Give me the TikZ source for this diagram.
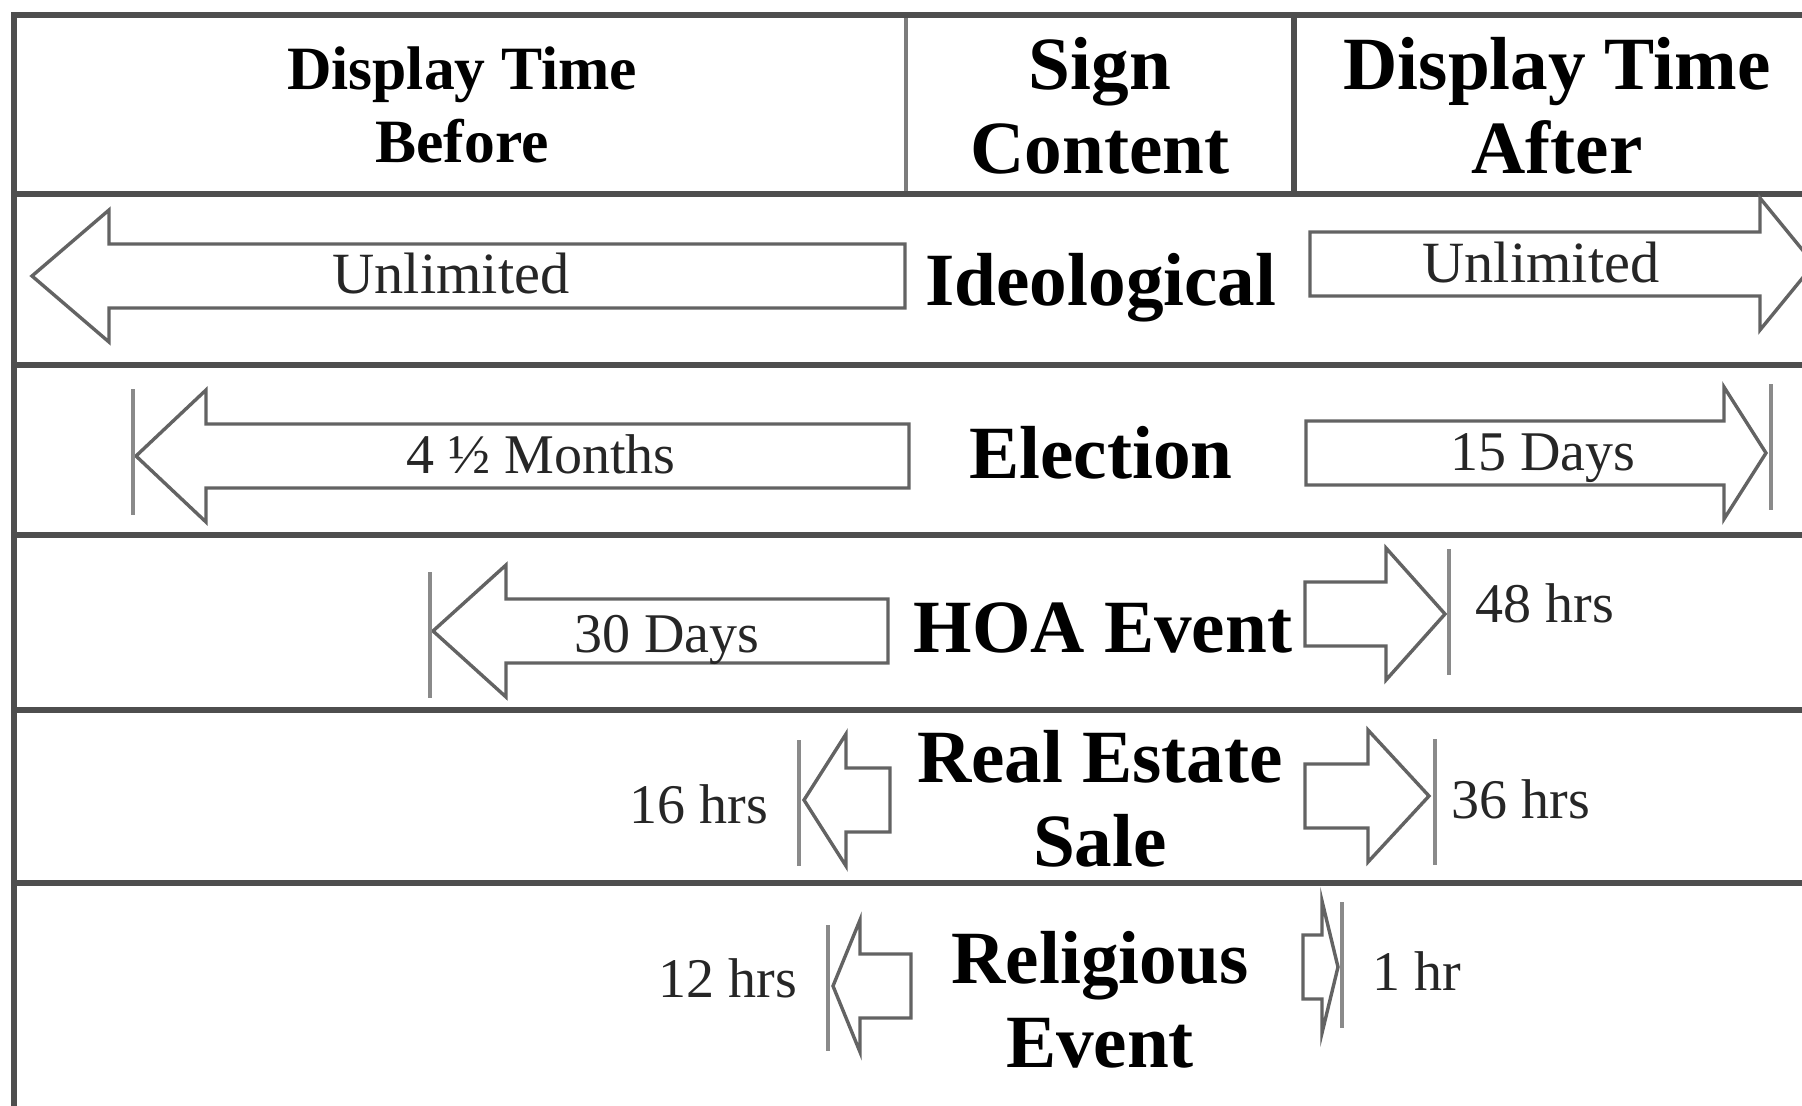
\documentclass[tikz,border=0pt]{standalone}
\usepackage{fontspec}
\setmainfont{Liberation Serif}
\definecolor{rulegray}{HTML}{4E4E4E}
\definecolor{colgray}{HTML}{7C7C7C}
\definecolor{arrowgray}{HTML}{636363}
\definecolor{bargray}{HTML}{8A8A8A}
\tikzset{tablerule/.style={draw=rulegray,line width=1.3pt},
colrule/.style={draw=colgray,line width=1.2pt},
blockarrow/.style={draw=arrowgray,fill=white,line width=0.85pt,line join=miter},
stopbar/.style={draw=bargray,line width=0.9pt},
signtext/.style={font=\bfseries\fontsize{18.8}{21}\selectfont,align=center,inner sep=0pt},
headsmall/.style={font=\bfseries\fontsize{15.4}{18.2}\selectfont,align=center,inner sep=0pt},
lbl/.style={font=\fontsize{14}{16}\selectfont,text=black!85,inner sep=0pt},
lblbig/.style={font=\fontsize{14.6}{17}\selectfont,text=black!85,inner sep=0pt}}
% block arrow: tip x, head back x, tail x, centre y
\newcommand{\BlockArrow}[4]{
\draw[blockarrow] (#3,{#4-32}) -- (#2,{#4-32}) -- (#2,{#4-66}) -- (#1,#4)
    -- (#2,{#4+66}) -- (#2,{#4+32}) -- (#3,{#4+32}) -- cycle;
}
\newcommand{\StopBar}[2]{\draw[stopbar] (#1,{#2-63}) -- (#1,{#2+63});
}
\begin{document}
\begin{tikzpicture}[x=0.25pt,y=-0.25pt]
    \useasboundingbox (0,0) rectangle (1802,1105);
    \clip (0,0) rectangle (1802,1105);
    % table
    \draw[colrule] (906,15) -- (906,194);
    \draw[tablerule] (1294,15) -- (1294,194);
    \draw[tablerule] (14,1110) -- (14,15) -- (1810,15);
    \foreach \y in {194,365,535,710,883}
        \draw[tablerule] (14,\y) -- (1810,\y);
    % header
    \node[headsmall] (hdBefore) at (462,105) {Display Time\\Before};
    \node[signtext] (hdSign) at (1100,105.5) {Sign\\Content};
    \node[signtext] (hdAfter) at (1557,105.5) {Display Time\\After};
    % sign content
    \node[signtext,anchor=base] (ideological) at (1101,305) {Ideological};
    \node[signtext,anchor=base] (election) at (1101,478) {Election};
    \node[signtext,anchor=base] (hoa) at (1103,652) {HOA Event};
    \node[signtext] (realestate) at (1100,799) {Real Estate\\Sale};
    \node[signtext] (religious) at (1100,999.5) {Religious\\Event};
    % arrows before
    \BlockArrow{32}{109}{905}{276}
    \BlockArrow{136}{206}{909}{456}
    \StopBar{133}{452}
    \BlockArrow{433}{506}{888}{631}
    \StopBar{430}{635}
    \BlockArrow{804}{846}{890}{800}
    \StopBar{799}{803}
    \BlockArrow{833}{860}{911}{986}
    \StopBar{828}{988}
    % arrows after
    \BlockArrow{1814}{1760}{1310}{264}
    \BlockArrow{1766}{1724}{1306}{453}
    \StopBar{1771}{447}
    \BlockArrow{1445}{1386}{1305}{614}
    \StopBar{1449}{612}
    \BlockArrow{1429}{1368}{1305}{796}
    \StopBar{1435}{802}
    \BlockArrow{1338}{1322}{1303}{967}
    \StopBar{1342}{965}
    % times
    \node[lblbig,anchor=base] (unlimBefore) at (451,293) {Unlimited};
    \node[lblbig,anchor=base] (unlimAfter) at (1541,282) {Unlimited};
    \node[lbl,anchor=base] (monthsBefore) at (541,473) {4 ½ Months};
    \node[lbl,anchor=base] (daysAfter) at (1543,470) {15 Days};
    \node[lbl,anchor=base] (daysBefore) at (667,652) {30 Days};
    \node[lbl,anchor=base west] (hrsHoa) at (1475,622) {48 hrs};
    \node[lbl,anchor=base east] (hrsSaleBefore) at (769,823) {16 hrs};
    \node[lbl,anchor=base west] (hrsSaleAfter) at (1451,818) {36 hrs};
    \node[lbl,anchor=base east] (hrsRelBefore) at (798,997) {12 hrs};
    \node[lbl,anchor=base west] (hrsRelAfter) at (1372,990) {1 hr};
\end{tikzpicture}
\end{document}
